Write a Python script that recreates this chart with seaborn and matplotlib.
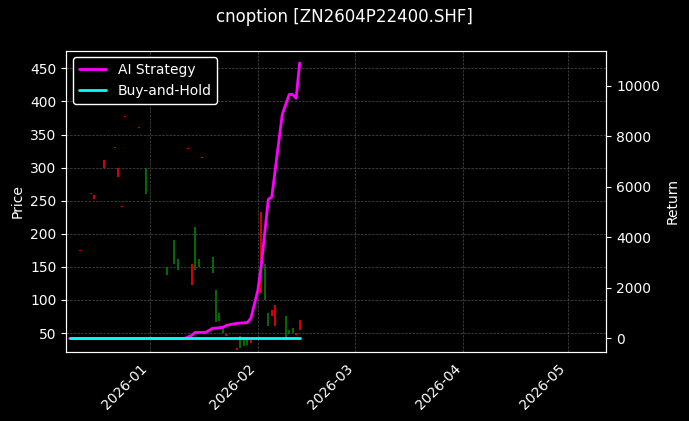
import pandas as pd
import numpy as np
import matplotlib
matplotlib.use("Agg")
import matplotlib.pyplot as plt
import matplotlib.dates as mdates
import seaborn as sns

# Candles (date, open, close)
candle_dates = ["2025-12-12", "2025-12-15", "2025-12-16", "2025-12-19", "2025-12-22",
                "2025-12-23", "2025-12-24", "2025-12-25", "2025-12-29", "2025-12-31",
                "2026-01-06", "2026-01-08", "2026-01-09", "2026-01-12", "2026-01-13",
                "2026-01-14", "2026-01-15", "2026-01-16", "2026-01-19", "2026-01-20",
                "2026-01-21", "2026-01-22", "2026-01-23", "2026-01-26", "2026-01-27",
                "2026-01-28", "2026-01-29", "2026-01-30", "2026-02-02", "2026-02-03",
                "2026-02-04", "2026-02-05", "2026-02-06", "2026-02-09", "2026-02-10",
                "2026-02-11", "2026-02-12", "2026-02-13"]
opens = [176, 262, 258, 311, 331, 300, 242, 378, 362, 260,
         138, 155, 145, 330, 155, 145, 150, 316, 140, 66,
         68, 50, 48, 28, 28, 30, 32, 40, 233, 100,
         60, 85, 92, 40, 48, 50, 50, 70]
closes = [174, 260, 253, 300, 329, 286, 240, 376, 360, 300,
          150, 190, 162, 328, 122, 210, 162, 314, 165, 115,
          80, 60, 45, 25, 45, 42, 44, 35, 110, 155,
          80, 75, 60, 75, 55, 58, 47, 55]

# Strategy return curve
ret_dates = ["2025-12-09", "2026-01-11", "2026-01-13", "2026-01-14", "2026-01-17",
             "2026-01-19", "2026-01-22", "2026-01-23", "2026-01-26", "2026-01-29",
             "2026-01-30", "2026-02-01", "2026-02-02", "2026-02-04", "2026-02-05",
             "2026-02-08", "2026-02-10", "2026-02-11", "2026-02-12", "2026-02-13"]
ai_ret = [0, 0, 120, 240, 240, 400, 440, 520, 600, 630,
          800, 1900, 2900, 5500, 5600, 8850, 9650, 9650, 9500, 10900]
bh_dates = ["2025-12-09", "2026-02-13"]
bh_ret = [0, 0]

sns.set_theme(style="dark")
plt.style.use("dark_background")
plt.rcParams["font.family"] = ["DejaVu Sans"]
plt.rcParams["font.size"] = 10
for k in ("axes.labelsize", "xtick.labelsize", "ytick.labelsize", "legend.fontsize"):
    plt.rcParams[k] = 10
plt.rcParams["figure.titlesize"] = 12
plt.rcParams["axes.linewidth"] = 0.8
plt.rcParams["xtick.major.width"] = 0.8
plt.rcParams["ytick.major.width"] = 0.8
plt.rcParams["xtick.major.size"] = 3.5
plt.rcParams["ytick.major.size"] = 3.5

fig, ax = plt.subplots(figsize=(6.89, 4.21), dpi=100)
fig.patch.set_facecolor("black")
ax.set_facecolor("black")

cd = pd.to_datetime(candle_dates)
for d, o, c in zip(cd, opens, closes):
    col = "green" if c >= o else "red"
    ax.vlines(d, min(o, c), max(o, c), color=col, linewidth=1.2)

ax.set_ylabel("Price")
ax.set_ylim(22, 477)
ax.set_yticks(range(50, 451, 50))
ax.grid(True, color="gray", linestyle="--", linewidth=0.5, alpha=0.6)

ax2 = ax.twinx()
ret_df = pd.DataFrame({"date": pd.to_datetime(ret_dates), "ret": ai_ret})
bh_df = pd.DataFrame({"date": pd.to_datetime(bh_dates), "ret": bh_ret})
sns.lineplot(data=ret_df, x="date", y="ret", ax=ax2, color="magenta", linewidth=2, label="AI Strategy")
sns.lineplot(data=bh_df, x="date", y="ret", ax=ax2, color="cyan", linewidth=2, label="Buy-and-Hold")
ax2.set_ylim(-516, 11390)
ax2.set_ylabel("Return")
ax2.set_xlabel("")
ax2.legend(loc="upper left", facecolor="black", edgecolor="white", framealpha=1)

ax.set_xlim(pd.Timestamp("2025-12-08"), pd.Timestamp("2026-05-12"))
ax.xaxis.set_major_locator(mdates.MonthLocator())
ax.xaxis.set_major_formatter(mdates.DateFormatter("%Y-%m"))
plt.setp(ax.get_xticklabels(), rotation=45, ha="right")
for a in (ax, ax2):
    for s in a.spines.values():
        s.set_color("white")
        s.set_linewidth(0.8)

fig.suptitle("cnoption [ZN2604P22400.SHF]")
fig.subplots_adjust(left=0.096, right=0.88, top=0.88, bottom=0.165)
fig.savefig("out.png", dpi=100, facecolor="black")
